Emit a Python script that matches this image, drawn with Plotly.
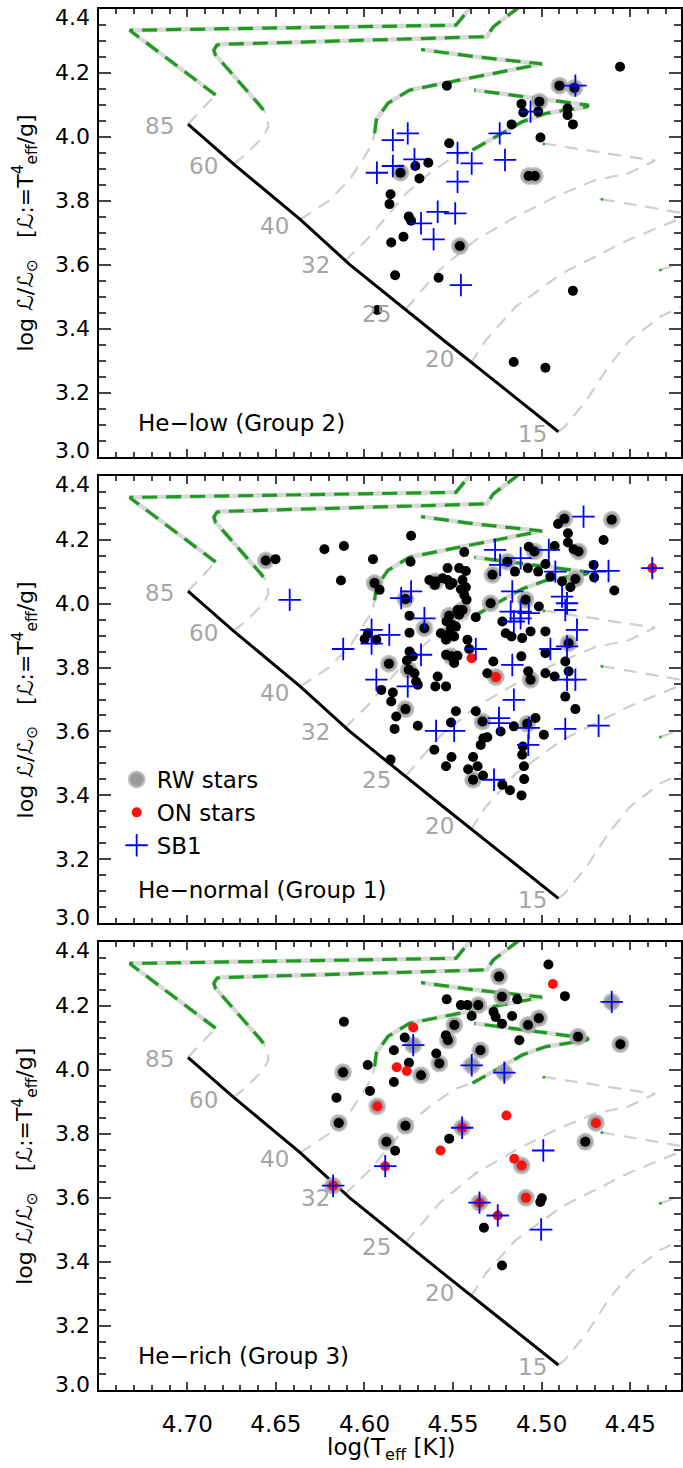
import plotly.graph_objects as go

# ---------------- data ----------------
ZAMS_T = [4.6996, 4.6738, 4.6363, 4.6083, 4.5559, 4.4906]
ZAMS_L = [4.039, 3.914, 3.741, 3.600, 3.366, 3.078]

DASH_TRACKS = [
    ([4.6996, 4.684], [4.039, 4.130]),                                        # 85
    ([4.6738, 4.6663, 4.657, 4.6542, 4.6551, 4.657], [3.914, 3.948, 4.0, 4.031, 4.067, 4.083]),  # 60
    ([4.6363, 4.620, 4.6083, 4.5957, 4.5943], [3.741, 3.800, 3.866, 3.975, 4.010]),             # 40
    ([4.611, 4.5971, 4.5765, 4.5634, 4.5484, 4.5391], [3.612, 3.687, 3.822, 3.885, 3.942, 3.958]),  # 32
    ([4.5765, 4.5578, 4.5372, 4.5147, 4.4922, 4.4698, 4.4511, 4.436, 4.4511, 4.4998],
     [3.462, 3.583, 3.677, 3.749, 3.812, 3.864, 3.885, 3.925, 3.937, 3.979]),   # 25
    ([4.540, 4.5316, 4.5147, 4.4885, 4.4511, 4.4214], [3.292, 3.364, 3.468, 3.573, 3.677, 3.745]),  # 20
    ([4.466, 4.4214], [3.804, 3.762]),
    ([4.4906, 4.4871, 4.4748, 4.4625, 4.4503, 4.4332, 4.4214], [3.078, 3.093, 3.176, 3.28, 3.364, 3.437, 3.468]),  # 15
    ([4.433, 4.4214], [3.583, 3.605]),
]
GREEN_TRACKS = [
    ([4.684, 4.7325, 4.5484, 4.5407, 4.535], [4.130, 4.332, 4.348, 4.40, 4.45]),
    ([4.657, 4.6592, 4.6841, 4.685, 4.6832, 4.6813, 4.531, 4.5273, 4.5138, 4.505],
     [4.083, 4.098, 4.255, 4.270, 4.286, 4.288, 4.312, 4.343, 4.40, 4.45]),
    ([4.5943, 4.5933, 4.5868, 4.5746, 4.5559, 4.5316, 4.4998, 4.5372, 4.5681],
     [4.010, 4.052, 4.104, 4.145, 4.166, 4.192, 4.227, 4.249, 4.272]),
    ([4.5391, 4.5260, 4.5110, 4.4979, 4.4745, 4.4736, 4.4885, 4.5091, 4.5381],
     [3.958, 4.000, 4.046, 4.072, 4.093, 4.098, 4.109, 4.124, 4.145]),
]
GREEN_DOTS_T = [4.4988, 4.466, 4.433]
GREEN_DOTS_L = [3.977, 3.804, 3.583]

MASS_LABELS = ["85", "60", "40", "32", "25", "20", "15"]
MASS_T = [4.7156, 4.6909, 4.6506, 4.6274, 4.5933, 4.5578, 4.5053]
MASS_L = [4.034, 3.907, 3.720, 3.599, 3.447, 3.304, 3.072]

Y_TICKS = [3.0, 3.2, 3.4, 3.6, 3.8, 4.0, 4.2, 4.4]
Y_TICK_TEXT = ["3.0", "3.2", "3.4", "3.6", "3.8", "4.0", "4.2", "4.4"]
X_TICKS = [4.70, 4.65, 4.60, 4.55, 4.50, 4.45]

# ---- Panel 1: He-low (Group 2)
P1_DOT_T = [4.4558, 4.5535, 4.4900, 4.4815, 4.5114, 4.5104, 4.5013, 4.5020, 4.4854, 4.4854, 4.4824,
            4.5170, 4.5007, 4.5522, 4.5073, 4.5039, 4.5797, 4.5713, 4.5640, 4.5690, 4.5853, 4.5859,
            4.5750, 4.5737, 4.5780, 4.5849, 4.5462, 4.5827, 4.5582, 4.5928, 4.4824, 4.5158, 4.4979]
P1_DOT_L = [4.218, 4.159, 4.159, 4.152, 4.102, 4.075, 4.109, 4.078, 4.088, 4.067, 4.038,
            4.038, 3.997, 3.979, 3.877, 3.877, 3.887, 3.908, 3.918, 3.869, 3.820, 3.789,
            3.750, 3.737, 3.687, 3.669, 3.658, 3.567, 3.559, 3.458, 3.518, 3.296, 3.278]
P1_RW_T = [4.5797, 4.5462, 4.5073, 4.5039, 4.4900, 4.4815, 4.5013]
P1_RW_L = [3.887, 3.658, 3.877, 3.877, 4.159, 4.152, 4.109]
P1_ON_T = []
P1_ON_L = []
P1_SB_T = [4.5756, 4.5840, 4.5840, 4.5930, 4.5718, 4.5475, 4.5395, 4.5475, 4.5237, 4.5207, 4.5063,
           4.4810, 4.5587, 4.5488, 4.5681, 4.5610, 4.5456]
P1_SB_L = [4.010, 3.989, 3.908, 3.887, 3.929, 3.949, 3.916, 3.859, 4.010, 3.927, 4.078,
           4.159, 3.765, 3.760, 3.729, 3.679, 3.536]

# ---- Panel 2: He-normal (Group 1)
P2_DOT_T = [4.4908, 4.4872, 4.4605, 4.4852, 4.4852, 4.4651, 4.5737, 4.6116, 4.5437, 4.5073, 4.5041,
            4.4927, 4.4820, 4.4792, 4.5952, 4.5740, 4.5531, 4.5466, 4.5428, 4.5194, 4.5151, 4.5078,
            4.5020, 4.4979, 4.4707, 4.6133, 4.5943, 4.5915, 4.5634, 4.5600, 4.5559, 4.5531, 4.5503,
            4.5447, 4.5428, 4.5278, 4.4951, 4.4885, 4.4810, 4.4704, 4.4590, 4.4838, 4.5456, 4.5437,
            4.5424, 4.5769, 4.5091, 4.5016, 4.5288, 4.5372, 4.5447, 4.5475, 4.5466, 4.5522, 4.5537,
            4.5503, 4.5746, 4.5222, 4.5662, 4.5980, 4.5999, 4.5933, 4.5531, 4.5512, 4.5484, 4.5494,
            4.5540, 4.5569, 4.5746, 4.5203, 4.5170, 4.5110, 4.5063, 4.4979, 4.5746, 4.5727, 4.5419,
            4.5512, 4.5540, 4.5475, 4.5494, 4.5409, 4.5115, 4.4979, 4.4848, 4.4867, 4.5862, 4.5761,
            4.5750, 4.5718, 4.5273, 4.5307, 4.5076, 4.5063, 4.4979, 4.4927, 4.4848, 4.5587, 4.5600,
            4.5540, 4.5709, 4.5699, 4.5905, 4.5840, 4.4867, 4.5849, 4.5769, 4.5821, 4.5484, 4.5372,
            4.4810, 4.5699, 4.5830, 4.5512, 4.5334, 4.5232, 4.5082, 4.5157, 4.5035, 4.4988, 4.5606,
            4.5329, 4.5307, 4.5344, 4.5106, 4.5509, 4.5387, 4.5110, 4.5540, 4.5415, 4.5362, 4.5100,
            4.5387, 4.5331, 4.5099, 4.5222, 4.5179, 4.5114, 4.5853, 4.6502, 4.6557, 4.6226, 4.5603,
            4.5517]
P2_DOT_L = [4.249, 4.265, 4.262, 4.220, 4.191, 4.199, 4.212, 4.180, 4.161, 4.178, 4.163,
            4.180, 4.170, 4.163, 4.139, 4.131, 4.111, 4.111, 4.102, 4.131, 4.100, 4.111,
            4.100, 4.124, 4.121, 4.072, 4.064, 4.043, 4.074, 4.069, 4.079, 4.074, 4.064,
            4.074, 4.051, 4.090, 4.084, 4.069, 4.077, 4.082, 4.041, 4.051, 4.045, 4.027,
            4.012, 4.014, 4.012, 3.991, 4.001, 3.957, 3.980, 3.980, 3.965, 3.962, 3.944,
            3.933, 3.962, 3.944, 3.923, 3.907, 3.889, 3.887, 3.902, 3.923, 3.928, 3.897,
            3.887, 3.907, 3.909, 3.907, 3.897, 3.892, 3.913, 3.913, 3.850, 3.835, 3.887,
            3.835, 3.840, 3.837, 3.814, 3.858, 3.835, 3.845, 3.876, 3.819, 3.812, 3.822,
            3.793, 3.782, 3.819, 3.782, 3.788, 3.762, 3.782, 3.772, 3.788, 3.772, 3.741,
            3.741, 3.756, 3.746, 3.730, 3.722, 3.709, 3.694, 3.670, 3.647, 3.663, 3.663,
            3.670, 3.618, 3.608, 3.628, 3.631, 3.600, 3.624, 3.616, 3.642, 3.590, 3.543,
            3.579, 3.582, 3.558, 3.553, 3.520, 3.520, 3.527, 3.491, 3.482, 3.491, 3.491,
            3.449, 3.462, 3.451, 3.433, 3.416, 3.400, 3.512, 4.139, 4.1345, 4.170, 4.058,
            4.058]
P2_RW_T = [4.4872, 4.4605, 4.5041, 4.4792, 4.5194, 4.5943, 4.5600, 4.5278, 4.4810, 4.5769, 4.5091,
           4.5288, 4.5447, 4.5522, 4.5662, 4.5531, 4.5512, 4.4848, 4.5862, 4.5750, 4.5063, 4.5769,
           4.5334, 4.5082, 4.5387, 4.6557, 4.5259]
P2_RW_L = [4.265, 4.262, 4.163, 4.163, 4.131, 4.064, 4.069, 4.090, 4.077, 4.014, 4.012,
           4.001, 3.980, 3.962, 3.923, 3.902, 3.835, 3.876, 3.812, 3.793, 3.762, 3.670,
           3.631, 3.624, 3.449, 4.1345, 3.770]
P2_ON_T = [4.4376, 4.5396, 4.5259]
P2_ON_L = [4.111, 3.829, 3.770]
P2_SB_T = [4.4764, 4.5263, 4.5235, 4.5119, 4.4960, 4.4923, 4.4698, 4.4623, 4.4376, 4.5793, 4.5737,
           4.5166, 4.4885, 4.4857, 4.4867, 4.5175, 4.5119, 4.5073, 4.5119, 4.5157, 4.5662, 4.596,
           4.596, 4.586, 4.6120, 4.4801, 4.4857, 4.4951, 4.5372, 4.5681, 4.5166, 4.4857, 4.4810,
           4.5933, 4.5756, 4.5157, 4.5596, 4.5494, 4.5241, 4.5241, 4.5073, 4.5076, 4.4867, 4.4679,
           4.5269, 4.6422]
P2_SB_L = [4.272, 4.168, 4.121, 4.142, 4.168, 4.100, 4.100, 4.102, 4.111, 4.017, 4.038,
           4.038, 4.022, 4.001, 3.980, 3.975, 3.975, 3.970, 3.954, 3.944, 3.954, 3.918,
           3.875, 3.902, 3.858, 3.918, 3.866, 3.858, 3.858, 3.840, 3.808, 3.762, 3.762,
           3.762, 3.741, 3.699, 3.602, 3.602, 3.642, 3.626, 3.611, 3.558, 3.608, 3.618,
           3.449, 4.0115]

# ---- Panel 3: He-rich (Group 3)
P3_DOT_T = [4.4962, 4.4869, 4.5241, 4.5224, 4.5138, 4.5536, 4.5456, 4.5419, 4.5358, 4.5395, 4.5272,
            4.5260, 4.5224, 4.5167, 4.5077, 4.5016, 4.5493, 4.5541, 4.5529, 4.5126, 4.4795, 4.4556,
            4.5773, 4.6116, 4.5834, 4.5749, 4.5595, 4.5578, 4.5681, 4.5346, 4.5982, 4.6121, 4.5969,
            4.5834, 4.6158, 4.6145, 4.5769, 4.5876, 4.5827, 4.5522, 4.4754, 4.4999, 4.5008, 4.5326,
            4.5224]
P3_DOT_L = [4.329, 4.230, 4.291, 4.228, 4.220, 4.220, 4.202, 4.202, 4.202, 4.168, 4.181,
            4.165, 4.144, 4.168, 4.140, 4.161, 4.140, 4.108, 4.092, 4.092, 4.103, 4.080,
            4.101, 4.150, 4.061, 4.022, 4.051, 4.020, 3.983, 4.061, 4.015, 3.992, 3.934,
            3.962, 3.913, 3.834, 3.825, 3.775, 3.747, 3.785, 3.775, 3.599, 3.587, 3.507,
            3.389]
P3_RW_T = [4.5241, 4.5224, 4.5358, 4.5077, 4.5016, 4.5493, 4.5529, 4.4795, 4.4556, 4.5578, 4.5681,
           4.5346, 4.6121, 4.6145, 4.5769, 4.5876, 4.4754, 4.5725, 4.5395, 4.5211, 4.4605, 4.5928,
           4.5449, 4.5113, 4.5089, 4.4694, 4.6177, 4.5351]
P3_RW_L = [4.291, 4.228, 4.202, 4.140, 4.161, 4.140, 4.092, 4.103, 4.080, 4.020, 3.983,
           4.061, 3.992, 3.834, 3.825, 3.775, 3.775, 4.077, 4.014, 3.991, 4.212, 3.886,
           3.819, 3.701, 3.600, 3.834, 3.638, 3.585]
P3_ON_T = [4.4937, 4.5725, 4.5818, 4.5761, 4.5928, 4.5199, 4.5449, 4.5571, 4.5155, 4.5113, 4.5089,
           4.4694, 4.5883, 4.6177, 4.5351, 4.5248]
P3_ON_L = [4.268, 4.132, 4.008, 3.996, 3.886, 3.857, 3.819, 3.748, 3.722, 3.701, 3.600,
           3.834, 3.699, 3.638, 3.585, 3.545]
P3_SB_T = [4.5725, 4.5395, 4.5211, 4.4605, 4.5449, 4.5883, 4.6177, 4.5351, 4.5248, 4.4991, 4.5003]
P3_SB_L = [4.077, 4.014, 3.991, 4.212, 3.819, 3.699, 3.638, 3.585, 3.545, 3.748, 3.501]

PANEL_LABELS = ["He\u2212low (Group 2)", "He\u2212normal (Group 1)", "He\u2212rich (Group 3)"]

PANELS = [
    (P1_DOT_T, P1_DOT_L, P1_RW_T, P1_RW_L, P1_ON_T, P1_ON_L, P1_SB_T, P1_SB_L),
    (P2_DOT_T, P2_DOT_L, P2_RW_T, P2_RW_L, P2_ON_T, P2_ON_L, P2_SB_T, P2_SB_L),
    (P3_DOT_T, P3_DOT_L, P3_RW_T, P3_RW_L, P3_ON_T, P3_ON_L, P3_SB_T, P3_SB_L),
]

# ---------------- figure ----------------
W, H = 683, 1468
FONT = "DejaVu Sans"
X_RANGE = [4.7498, 4.4214]
Y_RANGE = [3.0, 4.4]
X_DOMAIN = [99.3 / W, 1.0]
PANEL_PX = [(8.5, 456.7), (475.7, 923.3), (941.7, 1390.0)]

fig = go.Figure()
annotations = []

for i, (dT, dL, rT, rL, oT, oL, sT, sL) in enumerate(PANELS):
    n = i + 1
    xa = "x" if n == 1 else f"x{n}"
    ya = "y" if n == 1 else f"y{n}"
    show = (n == 2)

    for tT, tL in DASH_TRACKS:
        fig.add_trace(go.Scatter(x=tT, y=tL, xaxis=xa, yaxis=ya, mode="lines", showlegend=False,
                                 hoverinfo="skip",
                                 line=dict(color="#cfcfcf", width=2.2, dash="13px,9px")))
    for tT, tL in GREEN_TRACKS:
        fig.add_trace(go.Scatter(x=tT, y=tL, xaxis=xa, yaxis=ya, mode="lines", showlegend=False,
                                 hoverinfo="skip", line=dict(color="#d9d9d9", width=4.5)))
        fig.add_trace(go.Scatter(x=tT, y=tL, xaxis=xa, yaxis=ya, mode="lines", showlegend=False,
                                 hoverinfo="skip",
                                 line=dict(color="#1e9a1e", width=3.2, dash="15px,9px")))
    fig.add_trace(go.Scatter(x=GREEN_DOTS_T, y=GREEN_DOTS_L, xaxis=xa, yaxis=ya, mode="markers",
                             showlegend=False, hoverinfo="skip",
                             marker=dict(color="#22aa22", size=3)))
    fig.add_trace(go.Scatter(x=ZAMS_T, y=ZAMS_L, xaxis=xa, yaxis=ya, mode="lines", showlegend=False,
                             hoverinfo="skip", line=dict(color="black", width=3)))

    fig.add_trace(go.Scatter(x=rT, y=rL, xaxis=xa, yaxis=ya, mode="markers", name="RW stars",
                             showlegend=show, legendrank=1,
                             marker=dict(color="#9a9a9a", size=15,
                                         line=dict(color="rgba(175,175,175,0.7)", width=3))))
    fig.add_trace(go.Scatter(x=dT, y=dL, xaxis=xa, yaxis=ya, mode="markers", showlegend=False,
                             marker=dict(color="black", size=10)))
    fig.add_trace(go.Scatter(x=oT, y=oL, xaxis=xa, yaxis=ya, mode="markers", name="ON stars",
                             showlegend=show, legendrank=2,
                             marker=dict(color="#ff1010", size=10)))
    fig.add_trace(go.Scatter(x=sT, y=sL, xaxis=xa, yaxis=ya, mode="markers", name="SB1",
                             showlegend=show, legendrank=3,
                             marker=dict(symbol="cross-thin", size=16, color="#0000ff",
                                         line=dict(color="#0000ff", width=1.8))))

    top, bot = PANEL_PX[i]
    dom = [1 - bot / H, 1 - top / H]
    fig.update_layout(**{
        ("xaxis" if n == 1 else f"xaxis{n}"): dict(
            domain=X_DOMAIN, range=X_RANGE, anchor=ya, tickmode="array", tickvals=X_TICKS,
            tickformat=".2f", showticklabels=(n == 3), ticks="inside", ticklen=8, tickwidth=1.5,
            minor=dict(tickmode="linear", tick0=0, dtick=0.01, ticks="inside", ticklen=5, tickwidth=1.5),
            showline=True, linewidth=2, linecolor="black", mirror="allticks",
            showgrid=False, zeroline=False, ticklabelstandoff=12,
            tickfont=dict(family=FONT, size=23, color="black")),
        ("yaxis" if n == 1 else f"yaxis{n}"): dict(
            domain=dom, range=Y_RANGE, anchor=xa, tickmode="array", tickvals=Y_TICKS,
            showticklabels=False, ticks="inside", ticklen=12, tickwidth=1.5,
            minor=dict(tickmode="linear", tick0=3.0, dtick=0.05, ticks="inside", ticklen=7, tickwidth=1.5),
            showline=True, linewidth=2, linecolor="black", mirror="allticks",
            showgrid=False, zeroline=False),
    })

    # y tick labels (outermost labels nudged inward as in the original)
    for tv, tt in zip(Y_TICKS, Y_TICK_TEXT):
        shift = -9 if tt == "4.4" else (6 if tt == "3.0" else 0)
        annotations.append(dict(x=92 / W, y=tv, xref="paper", yref=ya, text=tt, showarrow=False,
                                xanchor="right", yanchor="middle", yshift=shift,
                                font=dict(family=FONT, size=22, color="black")))

    for lab, mT, mL in zip(MASS_LABELS, MASS_T, MASS_L):
        annotations.append(dict(x=mT, y=mL, xref=xa, yref=ya, text=lab, showarrow=False,
                                xanchor="center", yanchor="middle",
                                font=dict(family=FONT, size=23, color="#a6a6a6")))
    annotations.append(dict(x=4.729, y=3.105, xref=xa, yref=ya, text=PANEL_LABELS[i], showarrow=False,
                            xanchor="left", yanchor="middle",
                            font=dict(family=FONT, size=23, color="black")))
    annotations.append(dict(x=25 / W, y=1 - (top + bot) / 2 / H, xref="paper", yref="paper",
                            text="log \u2112/\u2112<sub>\u2299</sub>   [\u2112:=T<sup>4</sup><sub>eff</sub>/g]",
                            textangle=-90, showarrow=False, xanchor="center", yanchor="middle",
                            font=dict(family=FONT, size=22, color="black")))

annotations.append(dict(x=392.6 / W, y=1 - 1449 / H, xref="paper", yref="paper",
                        text="log(T<sub>eff</sub> [K])", showarrow=False,
                        xanchor="center", yanchor="middle",
                        font=dict(family=FONT, size=23, color="black")))

fig.update_layout(
    width=W, height=H, margin=dict(l=0, r=0, t=0, b=0),
    paper_bgcolor="white", plot_bgcolor="white",
    font=dict(family=FONT, size=22, color="black"),
    annotations=annotations,
    legend=dict(x=117 / W, y=1 - 758 / H, xanchor="left", yanchor="top",
                bgcolor="rgba(0,0,0,0)", font=dict(family=FONT, size=23),
                itemsizing="trace", tracegroupgap=0),
)

fig.write_html("out.html")
